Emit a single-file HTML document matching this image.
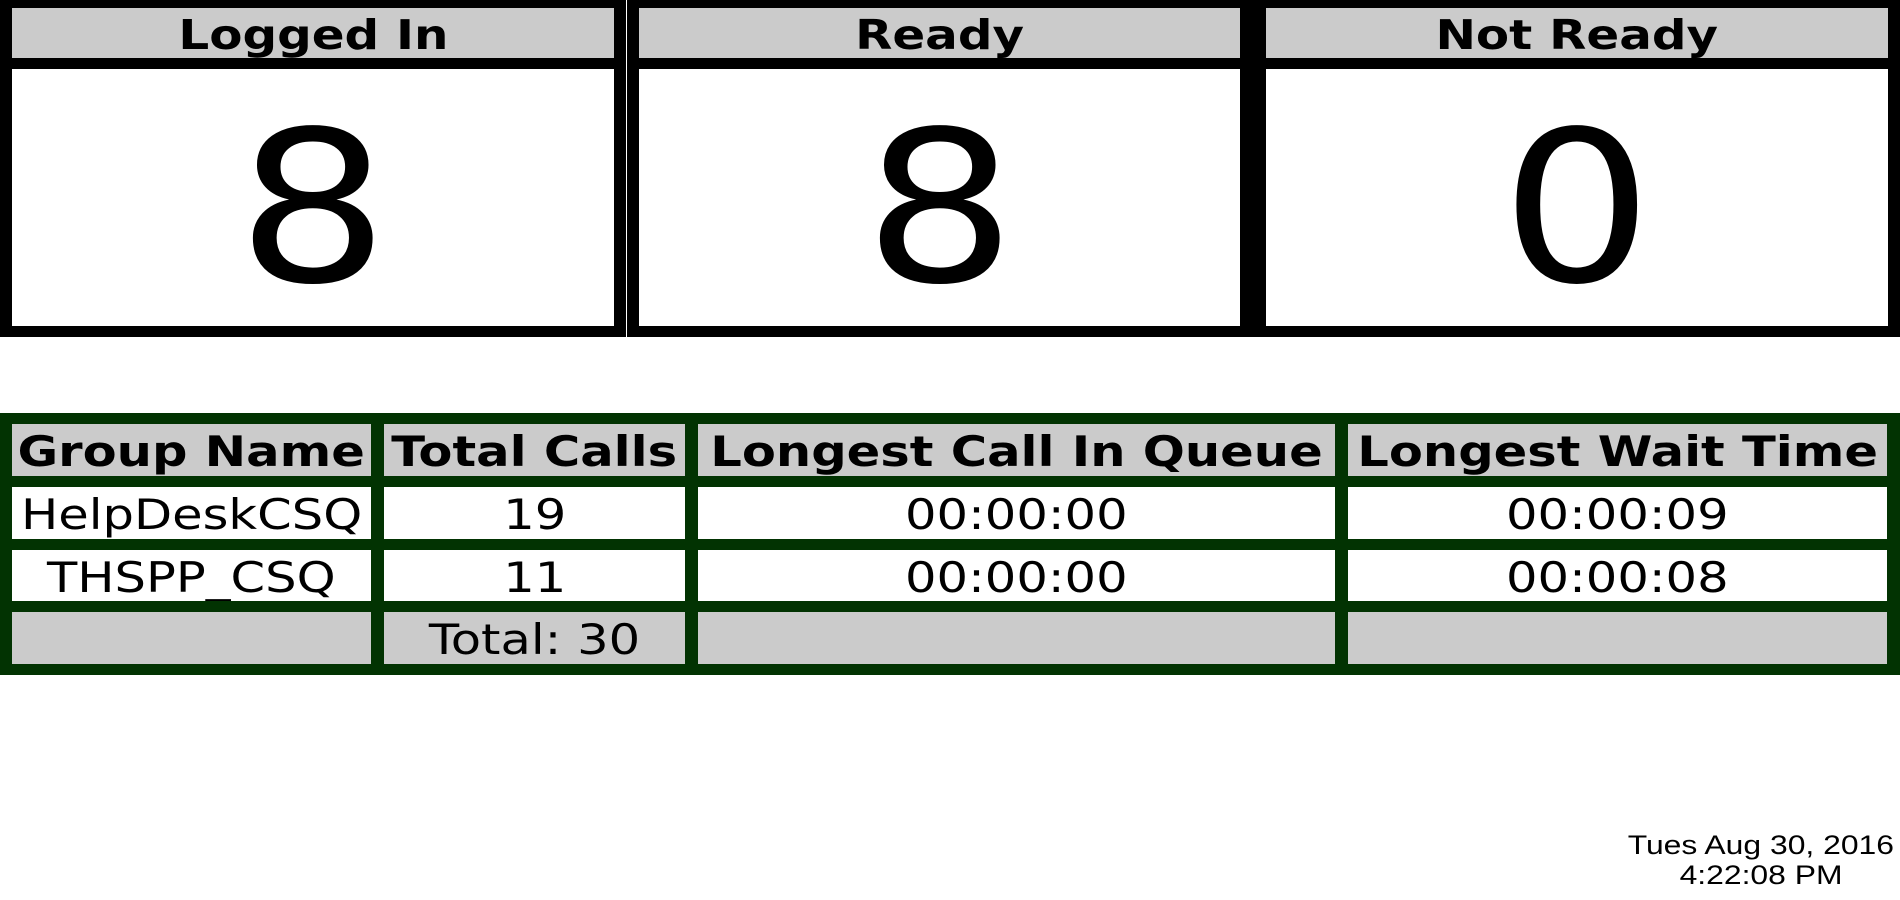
<!DOCTYPE html>
<html><head><meta charset="utf-8"><style>
html,body{margin:0;padding:0;width:1900px;height:900px;background:#fff;overflow:hidden;font-family:"DejaVu Sans","Liberation Sans",sans-serif}
.panel{position:absolute;top:0;height:337px;background:#000}
.ptitle{position:absolute;left:12px;right:12px;top:8px;height:50px;background:#cbcbcb;text-align:center;font-weight:bold;font-size:41px;line-height:54px;overflow:hidden}
.pval{position:absolute;left:12px;right:12px;top:69px;height:257px;background:#fff;text-align:center;font-size:210px;line-height:280px;overflow:hidden}
.sx{display:inline-block;transform:scaleX(1.18);transform-origin:center}
.pval .sx{transform:scaleX(1.14)}
.tbl{position:absolute;left:0;top:413px;width:1900px;height:262px;background:#023302}
.cell{position:absolute;text-align:center;overflow:hidden;white-space:nowrap}
.hd{background:#cbcbcb;font-weight:bold;font-size:42px}
.bd{background:#fff;font-size:42px}
.ft{background:#cbcbcb;font-size:42px}
.date{position:absolute;left:1620px;width:282px;top:830px;text-align:center;font-family:"Liberation Sans",Arial,sans-serif;font-size:27px;line-height:30px}
</style></head><body>
<div class="panel" style="left:0;width:626px">
 <div class="ptitle"><span class="sx">Logged In</span></div>
 <div class="pval"><span class="sx">8</span></div>
</div>
<div class="panel" style="left:627px;width:1273px">
 <div class="ptitle" style="right:660px"><span class="sx">Ready</span></div>
 <div class="pval" style="right:660px"><span class="sx">8</span></div>
</div>
<div class="panel" style="left:1254px;width:646px;background:transparent">
 <div class="ptitle"><span class="sx">Not Ready</span></div>
 <div class="pval"><span class="sx">0</span></div>
</div>

<div class="tbl">
 <div class="cell hd" style="left:12px;width:359px;top:11px;height:52px;line-height:56px"><span class="sx">Group Name</span></div>
 <div class="cell hd" style="left:384px;width:301px;top:11px;height:52px;line-height:56px"><span class="sx">Total Calls</span></div>
 <div class="cell hd" style="left:698px;width:637px;top:11px;height:52px;line-height:56px"><span class="sx">Longest Call In Queue</span></div>
 <div class="cell hd" style="left:1348px;width:539px;top:11px;height:52px;line-height:56px"><span class="sx">Longest Wait Time</span></div>

 <div class="cell bd" style="left:12px;width:359px;top:74px;height:52px;line-height:56px"><span class="sx">HelpDeskCSQ</span></div>
 <div class="cell bd" style="left:384px;width:301px;top:74px;height:52px;line-height:56px"><span class="sx">19</span></div>
 <div class="cell bd" style="left:698px;width:637px;top:74px;height:52px;line-height:56px"><span class="sx">00:00:00</span></div>
 <div class="cell bd" style="left:1348px;width:539px;top:74px;height:52px;line-height:56px"><span class="sx">00:00:09</span></div>

 <div class="cell bd" style="left:12px;width:359px;top:137px;height:51px;line-height:55px"><span class="sx">THSPP_CSQ</span></div>
 <div class="cell bd" style="left:384px;width:301px;top:137px;height:51px;line-height:55px"><span class="sx">11</span></div>
 <div class="cell bd" style="left:698px;width:637px;top:137px;height:51px;line-height:55px"><span class="sx">00:00:00</span></div>
 <div class="cell bd" style="left:1348px;width:539px;top:137px;height:51px;line-height:55px"><span class="sx">00:00:08</span></div>

 <div class="cell ft" style="left:12px;width:359px;top:199px;height:52px"></div>
 <div class="cell ft" style="left:384px;width:301px;top:199px;height:52px;line-height:56px"><span class="sx">Total: 30</span></div>
 <div class="cell ft" style="left:698px;width:637px;top:199px;height:52px"></div>
 <div class="cell ft" style="left:1348px;width:539px;top:199px;height:52px"></div>
</div>

<div class="date"><span class="sx">Tues Aug 30, 2016</span><br><span class="sx">4:22:08 PM</span></div>
</body></html>
